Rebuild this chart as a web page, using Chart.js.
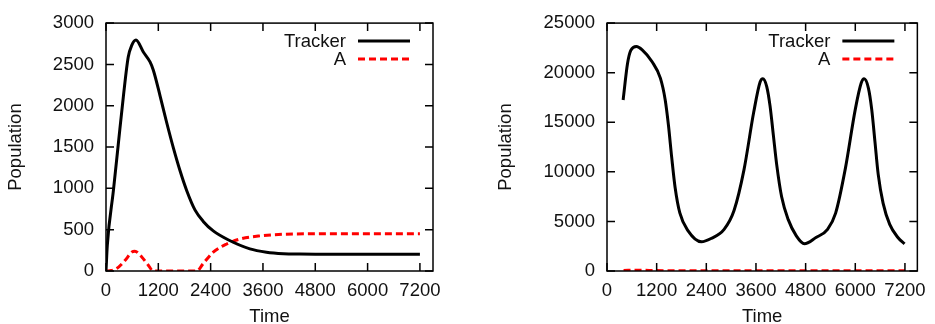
<!DOCTYPE html>
<html>
<head>
<meta charset="utf-8">
<script src="https://cdn.jsdelivr.net/npm/chart.js@4"></script>
<style>
  body { margin: 0; background: #fff; }
  #wrap { display: flex; width: 935px; height: 324px; }
  canvas { display: block; }
</style>
</head>
<body>
<div id="wrap">
  <canvas id="chartLeft" width="467" height="324"></canvas>
  <canvas id="chartRight" width="468" height="324"></canvas>
</div>
<script>
// tick labels
const xTicks = [0, 1200, 2400, 3600, 4800, 6000, 7200];
const leftYTicks = [0, 500, 1000, 1500, 2000, 2500, 3000];
const rightYTicks = [0, 5000, 10000, 15000, 20000, 25000];
const seriesNames = ["Tracker", "A"];

// left panel
const leftTrackerTime = [0, 30, 170, 280, 400, 510, 590, 688, 856, 1010, 1086, 1240, 1390, 1545, 1700, 1850, 2040, 2230, 2460, 2800, 3300, 3680, 4070, 4450, 4800, 6000, 7200];
const leftTrackerVals = [0, 310, 975, 1525, 2120, 2590, 2730, 2795, 2650, 2530, 2430, 2120, 1800, 1490, 1210, 975, 740, 600, 485, 378, 268, 228, 210, 205, 203, 203, 203];
const leftATime = [0, 120, 245, 440, 590, 660, 820, 970, 1085, 1500, 2080, 2230, 2460, 2770, 3070, 3530, 4070, 4800, 6000, 7200];
const leftAVals = [0, 5, 30, 130, 228, 240, 170, 70, 0, 0, 0, 90, 228, 327, 386, 425, 445, 450, 450, 450];

// right panel
const rightTrackerTime = [390, 495, 575, 710, 850, 1090, 1290, 1405, 1485, 1565, 1645, 1760, 1960, 2280, 2515, 2830, 3070, 3310, 3545, 3700, 3766, 3860, 3940, 4020, 4100, 4220, 4380, 4575, 4770, 5050, 5330, 5525, 5763, 6000, 6143, 6214, 6317, 6397, 6475, 6554, 6673, 6832, 7030, 7190];
const rightTrackerVals = [17250, 20900, 22250, 22640, 22300, 21100, 19450, 17300, 14700, 11400, 8450, 5850, 4050, 2950, 3280, 4200, 6100, 10200, 16000, 19050, 19390, 18600, 16650, 13700, 10750, 7480, 5180, 3550, 2750, 3380, 4200, 5840, 10400, 16300, 18950, 19390, 18450, 16300, 13050, 9750, 6820, 4700, 3380, 2730];
const rightATime = [400, 800, 1200, 2400, 3600, 4800, 6000, 7200];
const rightAVals = [60, 80, 40, 20, 20, 20, 20, 20];

const FONT = "'Liberation Sans', Arial, sans-serif";
const FSIZE = 18.5;
const TEXT = "#111";

function pts(ts, vs) {
  return ts.map((t, i) => ({ x: t, y: vs[i] }));
}

// frame, inward ticks (mirrored) and gnuplot-like legend
const framePlugin = {
  id: "frame",
  afterDatasetsDraw(chart) {
    const ctx = chart.ctx;
    const a = chart.chartArea;
    const tl = 8;
    ctx.save();
    ctx.strokeStyle = "#000";
    ctx.lineWidth = 1.5;
    chart.scales.x.ticks.forEach(t => {
      const px = chart.scales.x.getPixelForValue(t.value);
      ctx.beginPath();
      ctx.moveTo(px, a.bottom); ctx.lineTo(px, a.bottom - tl);
      ctx.moveTo(px, a.top); ctx.lineTo(px, a.top + tl);
      ctx.stroke();
    });
    chart.scales.y.ticks.forEach(t => {
      const py = chart.scales.y.getPixelForValue(t.value);
      ctx.beginPath();
      ctx.moveTo(a.left, py); ctx.lineTo(a.left + tl, py);
      ctx.moveTo(a.right, py); ctx.lineTo(a.right - tl, py);
      ctx.stroke();
    });
    ctx.strokeRect(a.left, a.top, a.right - a.left, a.bottom - a.top);

    // legend
    ctx.font = FSIZE + "px " + FONT;
    ctx.textAlign = "right";
    ctx.textBaseline = "middle";
    chart.data.datasets.forEach((ds, i) => {
      const y = a.top + 18 + i * 18;
      const x2 = a.right - 23;
      const x1 = x2 - 52;
      ctx.fillStyle = TEXT;
      ctx.fillText(ds.label, x1 - 12, y + 1);
      ctx.strokeStyle = ds.borderColor;
      ctx.lineWidth = ds.borderWidth;
      ctx.setLineDash(ds.borderDash || []);
      ctx.beginPath();
      ctx.moveTo(x1, y); ctx.lineTo(x2, y);
      ctx.stroke();
      ctx.setLineDash([]);
    });
    ctx.restore();
  }
};

function makeChart(id, tracker, a, yTicks, yMax, yWidth, yTitlePad, rightPad) {
  return new Chart(document.getElementById(id), {
    type: "line",
    data: {
      datasets: [
        {
          label: seriesNames[0],
          data: tracker,
          borderColor: "#000000",
          borderWidth: 3,
          pointRadius: 0,
          cubicInterpolationMode: "monotone",
        },
        {
          label: seriesNames[1],
          data: a,
          borderColor: "#ff0000",
          borderWidth: 3,
          borderDash: [7, 4],
          pointRadius: 0,
          cubicInterpolationMode: "monotone",
        },
      ],
    },
    options: {
      responsive: false,
      animation: false,
      devicePixelRatio: 1,
      layout: { padding: { top: 17, right: rightPad, left: 0, bottom: 0 } },
      plugins: { legend: { display: false }, tooltip: { enabled: false } },
      scales: {
        x: {
          type: "linear",
          min: 0,
          max: 7500,
          afterBuildTicks: s => { s.ticks = xTicks.map(v => ({ value: v })); },
          afterFit: s => { s.height = 53; },
          grid: { display: false, drawTicks: false },
          border: { display: false },
          ticks: {
            autoSkip: false,
            maxRotation: 0,
            padding: 9,
            color: TEXT,
            font: { family: FONT, size: FSIZE },
            callback: v => String(v),
          },
          title: {
            display: true,
            text: "Time",
            color: TEXT,
            font: { family: FONT, size: FSIZE, lineHeight: 1 },
            padding: { top: 0, bottom: -2 },
          },
        },
        y: {
          min: 0,
          max: yMax,
          afterBuildTicks: s => { s.ticks = yTicks.map(v => ({ value: v })); },
          afterFit: s => { s.width = yWidth; },
          grid: { display: false, drawTicks: false },
          border: { display: false },
          ticks: {
            padding: 12,
            color: TEXT,
            font: { family: FONT, size: FSIZE },
            callback: v => String(v),
          },
          title: {
            display: true,
            text: "Population",
            color: TEXT,
            font: { family: FONT, size: FSIZE, lineHeight: 1 },
            padding: { top: yTitlePad, bottom: 0 },
          },
        },
      },
    },
    plugins: [framePlugin],
  });
}

document.addEventListener("DOMContentLoaded", () => {
  makeChart("chartLeft", pts(leftTrackerTime, leftTrackerVals), pts(leftATime, leftAVals),
    leftYTicks, 3000, 106, 7, 34);
  makeChart("chartRight", pts(rightTrackerTime, rightTrackerVals), pts(rightATime, rightAVals),
    rightYTicks, 25000, 140, 29.5, 12);
});
</script>
</body>
</html>
